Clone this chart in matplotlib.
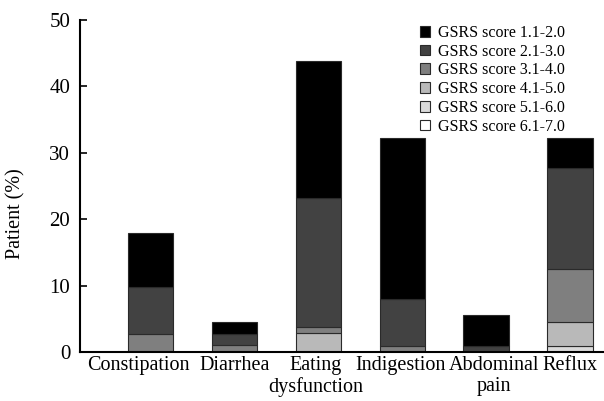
import numpy as np
import matplotlib.pyplot as plt

plt.rcParams['font.family'] = ['Liberation Serif', 'DejaVu Serif']

# symptoms on the x axis
categories = ['Constipation', 'Diarrhea', 'Eating\ndysfunction', 'Indigestion',
              'Abdominal\npain', 'Reflux']

# percentage of patients per GSRS score band
score_1_2 = [8.1, 1.8, 20.6, 24.3, 4.6, 4.6]
score_2_3 = [7.1, 1.7, 19.5, 7.1, 0.9, 15.1]
score_3_4 = [2.7, 1.0, 0.9, 0.9, 0.0, 8.0]
score_4_5 = [0.0, 0.0, 2.8, 0.0, 0.0, 3.6]
score_5_6 = [0.0, 0.0, 0.0, 0.0, 0.0, 0.95]
score_6_7 = [0.0, 0.0, 0.0, 0.0, 0.0, 0.0]

labels = ['GSRS score 1.1-2.0', 'GSRS score 2.1-3.0', 'GSRS score 3.1-4.0',
          'GSRS score 4.1-5.0', 'GSRS score 5.1-6.0', 'GSRS score 6.1-7.0']
colors = ['#000000', '#424242', '#7f7f7f', '#b9b9b9', '#dadada', '#ffffff']

series = [score_1_2, score_2_3, score_3_4, score_4_5, score_5_6, score_6_7]

fig = plt.figure(figsize=(6.04, 4.01), dpi=100)
ax = fig.add_axes([80 / 604, 49 / 401, 1 - 80 / 604, 332 / 401])

x = np.arange(len(categories))
bottom = np.zeros(len(categories))
bars = [None] * 6
# highest score band at the bottom, lowest on top
for k in [5, 4, 3, 2, 1, 0]:
    vals = np.array(series[k])
    bars[k] = ax.bar(x, vals, width=0.54, bottom=bottom, color=colors[k],
                     edgecolor='#2a2a2a', linewidth=0.8, label=labels[k])
    bottom += vals

ax.set_xlim(-0.84, 5.405)
ax.set_ylim(0, 50)
ax.set_yticks([0, 10, 20, 30, 40, 50])
# labels in the original are nudged a bit so they don't run together
nudge = np.array([-0.14, 0, -0.03, -0.02, 0.09, 0])
ax.set_xticks(x + nudge)
ax.set_xticklabels(categories, fontsize=14.5, linespacing=1.1)
ax.tick_params(axis='x', length=0, pad=3)
ax.tick_params(axis='y', labelsize=15, length=5, width=1.2, direction='in', pad=7)
ax.set_ylabel('Patient (%)', fontsize=14.5)
ax.yaxis.set_label_coords(-0.104, 0.416)

for s in ['top', 'right']:
    ax.spines[s].set_visible(False)
for s in ['left', 'bottom']:
    ax.spines[s].set_linewidth(1.5)

ax.legend(handles=bars, labels=labels, loc='upper left',
          bbox_to_anchor=(412 / 604, 1 - 17 / 401), bbox_transform=fig.transFigure,
          frameon=False, fontsize=11.5, handlelength=0.65, handleheight=0.65,
          handletextpad=0.5, labelspacing=0.17, borderpad=0)

fig.savefig('out.png', dpi=100)
